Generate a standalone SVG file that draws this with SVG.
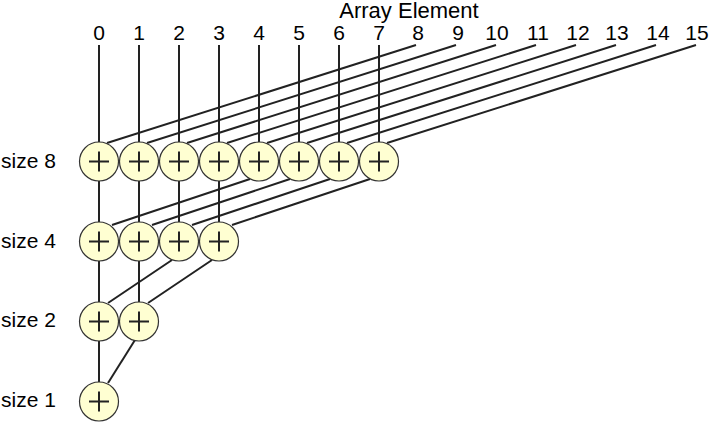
<svg xmlns="http://www.w3.org/2000/svg" width="710" height="423" viewBox="0 0 710 423">
<style>
text{font-family:"Liberation Sans",Arial,sans-serif;font-size:21px;fill:#000}
.ix{text-anchor:middle}
.w{stroke:#222;stroke-width:2;fill:none}
.c{fill:#ffffd2;stroke:#333;stroke-width:1.2}
.p{stroke:#222;stroke-width:2}
</style>
<defs>
<g id="add"><circle class="c" r="19.5"/><path class="p" d="M-10 0H10M0-10V10"/></g>
</defs>
<rect width="710" height="423" fill="#fff"/>
<g id="header">
<text x="409" y="18" class="ix" style="font-size:22px">Array Element</text>
<text x="99" y="40" class="ix">0</text><text x="139" y="40" class="ix">1</text><text x="179" y="40" class="ix">2</text><text x="219" y="40" class="ix">3</text>
<text x="259" y="40" class="ix">4</text><text x="299" y="40" class="ix">5</text><text x="339" y="40" class="ix">6</text><text x="379" y="40" class="ix">7</text>
<text x="418" y="40" class="ix">8</text><text x="458" y="40" class="ix">9</text><text x="497" y="40" class="ix">10</text><text x="538" y="40" class="ix">11</text>
<text x="578" y="40" class="ix">12</text><text x="617" y="40" class="ix">13</text><text x="658" y="40" class="ix">14</text><text x="697" y="40" class="ix">15</text>
</g>
<g id="row-labels">
<text x="1" y="168">size 8</text>
<text x="1" y="248">size 4</text>
<text x="1" y="327">size 2</text>
<text x="1" y="407">size 1</text>
</g>
<g id="connectors" class="w">
<path d="M99 45V162M139 45V162M179 45V162M219 45V162M259 45V162M299 45V162M339 45V162M379 45V162"/>
<path d="M416 45L107 143M456 45L147 143M496 45L187 143M536 45L227 143M576 45L267 143M616 45L307 143M656 45L347 143M696 45L387 143"/>
<path d="M99 162V242M139 162V242M179 162V242M219 162V242"/>
<path d="M250 179L112 225M290 179L152 225M330 179L192 225M370 179L232 225"/>
<path d="M99 242V322M139 242V322"/>
<path d="M172 260L108 303M212 260L148 303"/>
<path d="M99 322V402"/>
<path d="M135 340L108 383"/>
</g>
<g id="size8">
<use href="#add" x="99" y="161.5"/><use href="#add" x="139" y="161.5"/><use href="#add" x="179" y="161.5"/><use href="#add" x="219" y="161.5"/>
<use href="#add" x="259" y="161.5"/><use href="#add" x="299" y="161.5"/><use href="#add" x="339" y="161.5"/><use href="#add" x="379" y="161.5"/>
</g>
<g id="size4">
<use href="#add" x="99" y="241.5"/><use href="#add" x="139" y="241.5"/><use href="#add" x="179" y="241.5"/><use href="#add" x="219" y="241.5"/>
</g>
<g id="size2">
<use href="#add" x="99" y="321.5"/><use href="#add" x="139" y="321.5"/>
</g>
<g id="size1">
<use href="#add" x="99" y="401.5"/>
</g>
</svg>
